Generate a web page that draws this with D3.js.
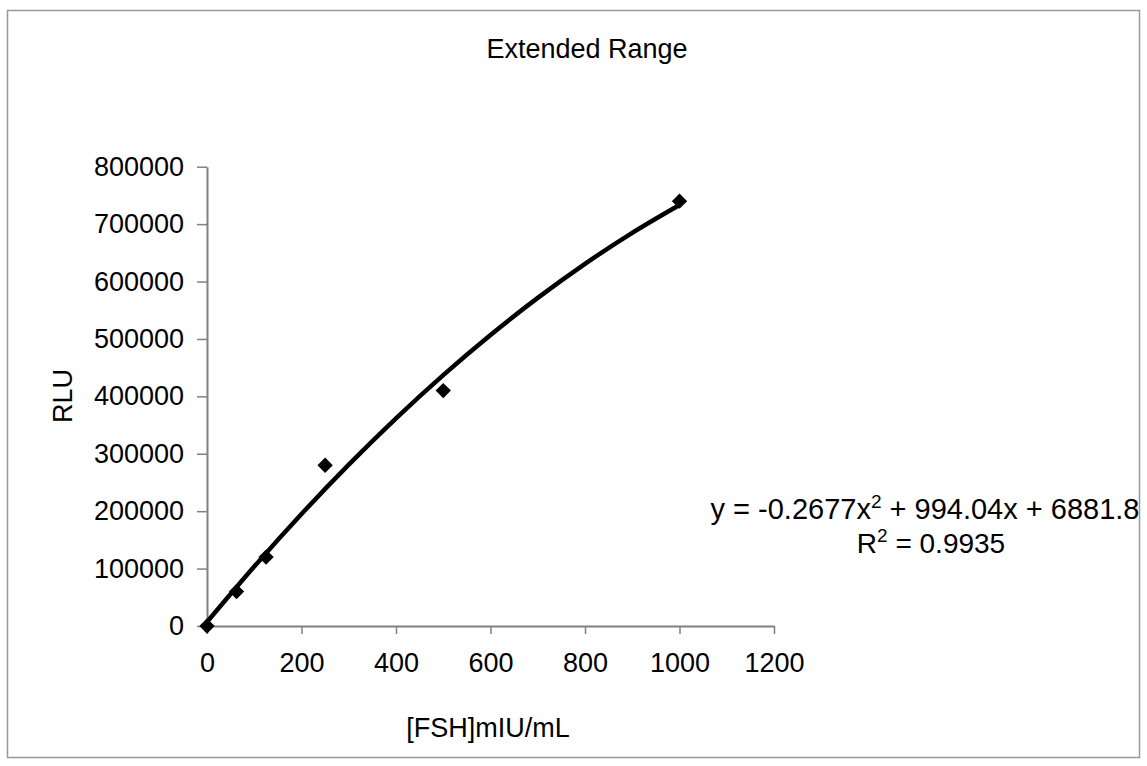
<!DOCTYPE html>
<html>
<head>
<meta charset="utf-8">
<script src="https://cdn.jsdelivr.net/npm/d3@7"></script>
<style>
  body { margin: 0; background: #fff; }
  text { font-family: "Liberation Sans", Arial, sans-serif; fill: #000; }
</style>
</head>
<body>
<div id="chart"></div>
<script>
// measured points (concentration vs RLU)
var conc = [0, 62.5, 125, 250, 500, 1000];
var rlu = [0, 60000, 120000, 280000, 410000, 740000];

// trendline
var trendX = [0, 100, 200, 300, 400, 500, 600, 700, 800, 900, 1000];
var trendY = [6900, 103600, 195000, 281000, 361700, 437000, 506900, 571500, 630800, 684700, 733200];

var xTicks = [0, 200, 400, 600, 800, 1000, 1200];
var yTicks = [0, 100000, 200000, 300000, 400000, 500000, 600000, 700000, 800000];

var W = 1147, H = 766;
var fs = 27;

var svg = d3
  .select("#chart")
  .append("svg")
  .attr("width", W)
  .attr("height", H);

// outer frame
svg
  .append("rect")
  .attr("x", 7.5)
  .attr("y", 10.5)
  .attr("width", 1132)
  .attr("height", 747)
  .attr("fill", "#fff")
  .attr("stroke", "#999")
  .attr("stroke-width", 1.5);

var x = d3.scaleLinear().domain([0, 1200]).range([207, 774]);
var y = d3.scaleLinear().domain([0, 800000]).range([626, 166.7]);

// axes
var xAxis = svg
  .append("g")
  .attr("transform", "translate(0," + y(0) + ")")
  .call(d3.axisBottom(x).tickValues(xTicks).tickSize(8).tickSizeOuter(0).tickPadding(19).tickFormat(d3.format("d")));
var yAxis = svg
  .append("g")
  .attr("transform", "translate(" + x(0) + ",0)")
  .call(d3.axisLeft(y).tickValues(yTicks).tickSize(10).tickSizeOuter(0).tickPadding(13).tickFormat(d3.format("d")));

[xAxis, yAxis].forEach(function (a) {
  a.select(".domain").attr("stroke", "#808080").attr("stroke-width", 2);
  a.selectAll(".tick line").attr("stroke", "#808080").attr("stroke-width", 1.5);
  a.selectAll(".tick text")
    .attr("font-family", "Liberation Sans, Arial, sans-serif")
    .attr("font-size", fs)
    .attr("fill", "#000");
});

// trendline
var line = d3
  .line()
  .x(function (d, i) { return x(trendX[i]); })
  .y(function (d) { return y(d); })
  .curve(d3.curveMonotoneX);

svg
  .append("path")
  .attr("d", line(trendY))
  .attr("fill", "none")
  .attr("stroke", "#000")
  .attr("stroke-width", 4.5);

// diamonds
svg
  .selectAll(".pt")
  .data(rlu)
  .enter()
  .append("path")
  .attr("class", "pt")
  .attr("d", d3.symbol().type(d3.symbolDiamond2).size(150))
  .attr("transform", function (d, i) {
    return "translate(" + x(conc[i]) + "," + y(d) + ")";
  })
  .attr("fill", "#000");

// title and axis labels
svg
  .append("text")
  .attr("x", 587)
  .attr("y", 58)
  .attr("text-anchor", "middle")
  .attr("font-size", fs)
  .text("Extended Range");

svg
  .append("text")
  .attr("x", 488)
  .attr("y", 737)
  .attr("text-anchor", "middle")
  .attr("font-size", fs)
  .text("[FSH]mIU/mL");

svg
  .append("text")
  .attr("transform", "translate(72,396)rotate(-90)")
  .attr("text-anchor", "middle")
  .attr("font-size", fs)
  .text("RLU");

// trendline equation
var eq = svg
  .append("text")
  .attr("x", 925)
  .attr("y", 519)
  .attr("text-anchor", "middle")
  .attr("font-size", 29);
eq.append("tspan").text("y = -0.2677x");
eq.append("tspan").attr("dy", -11).attr("font-size", 19).text("2");
eq.append("tspan").attr("dy", 11).text(" + 994.04x + 6881.8");

var r2 = svg
  .append("text")
  .attr("x", 931)
  .attr("y", 553)
  .attr("text-anchor", "middle")
  .attr("font-size", 28);
r2.append("tspan").text("R");
r2.append("tspan").attr("dy", -11).attr("font-size", 19).text("2");
r2.append("tspan").attr("dy", 11).text(" = 0.9935");
</script>
</body>
</html>
